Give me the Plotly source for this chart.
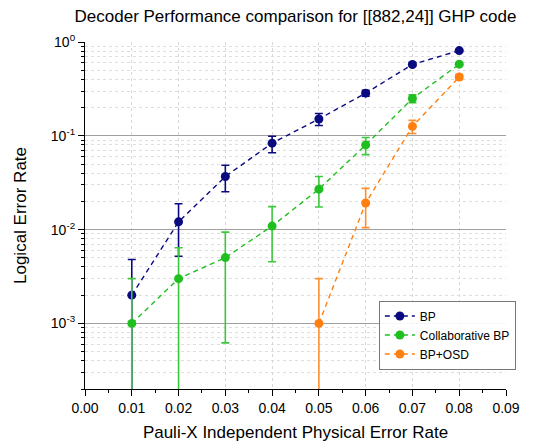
import plotly.graph_objects as go
import numpy as np

x_bp = [0.01, 0.02, 0.03, 0.04, 0.05, 0.06, 0.07, 0.08]
y_bp = [0.002, 0.0121, 0.0368, 0.0835, 0.151, 0.285, 0.576, 0.81]
up_bp = [0.0048, 0.0189, 0.0486, 0.099, 0.173, 0.305, 0.60, 0.83]
lo_bp = [0.0, 0.0052, 0.0253, 0.066, 0.129, 0.265, 0.555, 0.79]

x_cbp = [0.01, 0.02, 0.03, 0.04, 0.05, 0.06, 0.07, 0.08]
y_cbp = [0.001, 0.003, 0.00503, 0.0109, 0.027, 0.080, 0.25, 0.58]
up_cbp = [0.0030, 0.0064, 0.0094, 0.0176, 0.0368, 0.096, 0.274, 0.60]
lo_cbp = [0.0, 0.0, 0.00062, 0.00455, 0.0174, 0.063, 0.226, 0.56]

x_osd = [0.05, 0.06, 0.07, 0.08]
y_osd = [0.001, 0.0192, 0.126, 0.423]
up_osd = [0.003, 0.0275, 0.146, 0.45]
lo_osd = [0.0, 0.0105, 0.106, 0.40]

series = [
    ("BP", x_bp, y_bp, up_bp, lo_bp, "#0a0a80", "#0a0a80"),
    ("Collaborative BP", x_cbp, y_cbp, up_cbp, lo_cbp, "#1fbf1f", "#3cc83c"),
    ("BP+OSD", x_osd, y_osd, up_osd, lo_osd, "#ff8010", "#ff9030"),
]

fig = go.Figure()
for name, xs, ys, ups, los, col, ecol in series:
    ys_a = np.array(ys)
    plus = np.array(ups) - ys_a
    minus = np.array([y - l if l > 0 else y * 0.9999 for y, l in zip(ys, los)])
    fig.add_trace(go.Scatter(
        x=xs, y=ys, name=name, mode="lines+markers",
        line=dict(color=col, width=1.4, dash="5px,4px"),
        marker=dict(color=col, size=9, symbol="circle"),
        error_y=dict(type="data", symmetric=False, array=plus, arrayminus=minus,
                     color=ecol, thickness=1.6, width=4),
    ))

decades = [1e-3, 1e-2, 1e-1, 1]
minor_y = [m * 10.0 ** e for e in range(-4, 0) for m in range(2, 10)]
minor_y = [v for v in minor_y if 2e-4 <= v < 1]

W, H = 529, 434
font = "Liberation Sans, Arial, sans-serif"
fig.update_layout(
    width=W, height=H,
    margin=dict(l=77, r=31, t=34, b=53, autoexpand=False),
    paper_bgcolor="white", plot_bgcolor="white",
    font=dict(family=font, color="black"),
    title=dict(text="Decoder Performance comparison for [[882,24]] GHP code",
               x=0.5, xref="paper", xanchor="center", y=1 - 8.5 / H, yref="container",
               yanchor="middle", font=dict(size=17)),
    legend=dict(x=0.698, y=0.255, xanchor="left", yanchor="top",
                bordercolor="#777777", borderwidth=1, bgcolor="rgba(255,255,255,0.9)",
                font=dict(size=12), tracegroupgap=0, itemwidth=30),
    showlegend=True,
)
fig.update_xaxes(
    range=[0, 0.09], tickvals=[i / 100 for i in range(10)],
    ticktext=[f"{i/100:.2f}" for i in range(10)],
    showline=True, linecolor="black", linewidth=1.2,
    ticks="outside", ticklen=6, tickwidth=1.2, tickcolor="black",
    tickfont=dict(size=14), automargin=False,
    showgrid=True, gridcolor="#d8d8d8", griddash="dot", gridwidth=1,
    zeroline=False,
    minor=dict(tickvals=[0.005 + i / 100 for i in range(9)], ticks="outside",
               ticklen=3, tickwidth=1.2, tickcolor="black", showgrid=False),
    title=dict(text="Pauli-X Independent Physical Error Rate", font=dict(size=17), standoff=14),
)
fig.update_yaxes(
    type="log", range=[np.log10(2e-4), 0],
    tickvals=decades,
    ticktext=["10<sup>-3</sup>", "10<sup>-2</sup>", "10<sup>-1</sup>", "10<sup>0</sup>"],
    showline=True, linecolor="black", linewidth=1.2,
    ticks="outside", ticklen=6, tickwidth=1.2, tickcolor="black",
    tickfont=dict(size=14), automargin=False,
    showgrid=True, gridcolor="#a0a0a0", gridwidth=1.2,
    zeroline=False,
    minor=dict(tickvals=minor_y, ticks="outside", ticklen=3, tickwidth=1,
               tickcolor="black", showgrid=True, gridcolor="#dedede", griddash="dot"),
    title=dict(text="Logical Error Rate", font=dict(size=17), standoff=19),
)
fig.write_html("out.html")
